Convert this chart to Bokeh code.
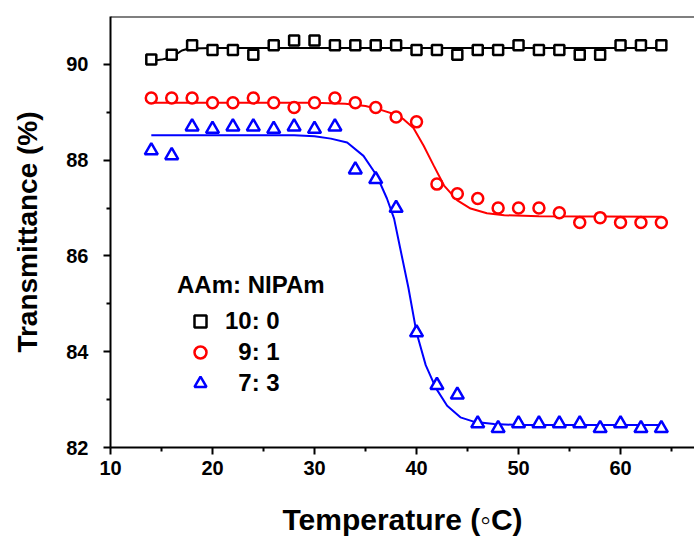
from bokeh.plotting import figure
from bokeh.models import Range1d, FixedTicker, Span, Legend, LegendItem
from bokeh.embed import file_html
from bokeh.resources import INLINE

# ---- data ----
temperature = [14, 16, 18, 20, 22, 24, 26, 28, 30, 32, 34, 36, 38,
               40, 42, 44, 46, 48, 50, 52, 54, 56, 58, 60, 62, 64]

trans_10_0 = [90.1, 90.2, 90.4, 90.3, 90.3, 90.2, 90.4, 90.5, 90.5, 90.4, 90.4, 90.4, 90.4,
              90.3, 90.3, 90.2, 90.3, 90.3, 90.4, 90.3, 90.3, 90.2, 90.2, 90.4, 90.4, 90.4]
trans_9_1 = [89.3, 89.3, 89.3, 89.2, 89.2, 89.3, 89.2, 89.1, 89.2, 89.3, 89.2, 89.1, 88.9,
             88.8, 87.5, 87.3, 87.2, 87.0, 87.0, 87.0, 86.9, 86.7, 86.8, 86.7, 86.7, 86.7]
trans_7_3 = [88.2, 88.1, 88.7, 88.65, 88.7, 88.7, 88.65, 88.7, 88.65, 88.7, 87.8, 87.6, 87.0,
             84.4, 83.3, 83.1, 82.5, 82.4, 82.5, 82.5, 82.5, 82.5, 82.4, 82.5, 82.4, 82.4]

# fitted curves
fit_10_0_x = [14, 15, 16, 16.5, 17, 17.5, 18, 20, 64]
fit_10_0_y = [90.07, 90.1, 90.15, 90.22, 90.29, 90.32, 90.33, 90.34, 90.34]

fit_9_1_x = [14, 30, 33, 35, 36.5, 38, 38.75, 39.7, 40.7, 41.7, 42.7, 44, 45.3, 46.9, 48.6, 52, 64]
fit_9_1_y = [89.2, 89.2, 89.18, 89.13, 89.05, 88.95, 88.85, 88.67, 88.3, 87.88, 87.47,
             87.16, 86.99, 86.89, 86.85, 86.83, 86.82]

fit_7_3_x = [14, 28, 30, 31.6, 33.2, 34.8, 36.1, 37.1, 37.8, 38.4, 39.2, 40, 40.9, 41.9,
             43.0, 44.3, 45.6, 47.6, 50, 64]
fit_7_3_y = [88.52, 88.52, 88.5, 88.45, 88.37, 88.09, 87.68, 87.2, 86.78, 86.16, 85.34,
             84.4, 83.72, 83.24, 82.87, 82.63, 82.54, 82.49, 82.47, 82.47]

x_major = [10, 20, 30, 40, 50, 60]
x_minor = [15, 25, 35, 45, 55, 65]
y_major = [82, 84, 86, 88, 90]
y_minor = [83, 85, 87, 89]

legend_title = "AAm: NIPAm"
legend_labels = ["10: 0", "\u00a0\u00a09: 1", "\u00a0\u00a07: 3"]

FONT = "Liberation Sans"

p = figure(width=694, height=538, output_backend="svg", toolbar_location=None,
           x_range=Range1d(10, 67.25), y_range=Range1d(82, 91),
           min_border_left=110, min_border_right=0, min_border_top=16, min_border_bottom=85)
p.outline_line_color = None
p.xgrid.visible = False
p.ygrid.visible = False
p.background_fill_color = "white"
p.border_fill_color = "white"

for ax in (p.xaxis[0], p.yaxis[0]):
    ax.axis_line_width = 2
    ax.major_tick_line_width = 2
    ax.minor_tick_line_width = 2
    ax.major_tick_in = 0
    ax.major_tick_out = 7
    ax.minor_tick_in = 0
    ax.minor_tick_out = 4
    ax.major_label_text_font = FONT
    ax.major_label_text_font_style = "bold"
    ax.major_label_text_font_size = "20px"
    ax.major_label_text_color = "black"
    ax.axis_label_text_font = FONT
    ax.axis_label_text_font_style = "bold"
    ax.axis_label_text_color = "black"

p.xaxis.axis_label_text_font_size = "30px"
p.yaxis.axis_label_text_font_size = "28px"
p.xaxis.ticker = FixedTicker(ticks=x_major, minor_ticks=x_minor)
p.yaxis.ticker = FixedTicker(ticks=y_major, minor_ticks=y_minor)
p.xaxis.axis_label = "Temperature (\u25e6C)"
p.yaxis.axis_label = "Transmittance (%)"
p.xaxis.major_label_standoff = 6
p.yaxis.major_label_standoff = 15
p.xaxis.axis_label_standoff = 25
p.yaxis.axis_label_standoff = 20

p.add_layout(Span(location=91, dimension="width", line_color="black", line_width=2))

# fit lines
p.line(fit_10_0_x, fit_10_0_y, line_color="black", line_width=2)
p.line(fit_9_1_x, fit_9_1_y, line_color="red", line_width=2)
p.line(fit_7_3_x, fit_7_3_y, line_color="blue", line_width=2)

# data markers
r1 = p.scatter(temperature, trans_10_0, marker="square", size=10, line_color="black",
               line_width=2.5, fill_color="white")
r2 = p.scatter(temperature, trans_9_1, marker="circle", size=11, line_color="red",
               line_width=2.5, fill_color="white")
r3 = p.scatter(temperature, trans_7_3, marker="triangle", size=13, line_color="blue",
               line_width=2.5, fill_color="white")

legend = Legend(items=[LegendItem(label=legend_labels[0], renderers=[r1]),
                       LegendItem(label=legend_labels[1], renderers=[r2]),
                       LegendItem(label=legend_labels[2], renderers=[r3])],
                location=(67, 49), title=legend_title)
legend.title_text_font = FONT
legend.title_text_font_style = "bold"
legend.title_text_font_size = "24px"
legend.title_text_color = "black"
legend.title_standoff = 7
legend.label_text_font = FONT
legend.label_text_font_style = "bold"
legend.label_text_font_size = "24px"
legend.label_text_color = "black"
legend.label_height = 30
legend.glyph_height = 30
legend.glyph_width = 46
legend.label_standoff = 2
legend.spacing = 1
legend.padding = 0
legend.margin = 0
legend.border_line_color = None
legend.background_fill_alpha = 0
p.add_layout(legend)

open("out.html", "w").write(file_html(p, INLINE))
